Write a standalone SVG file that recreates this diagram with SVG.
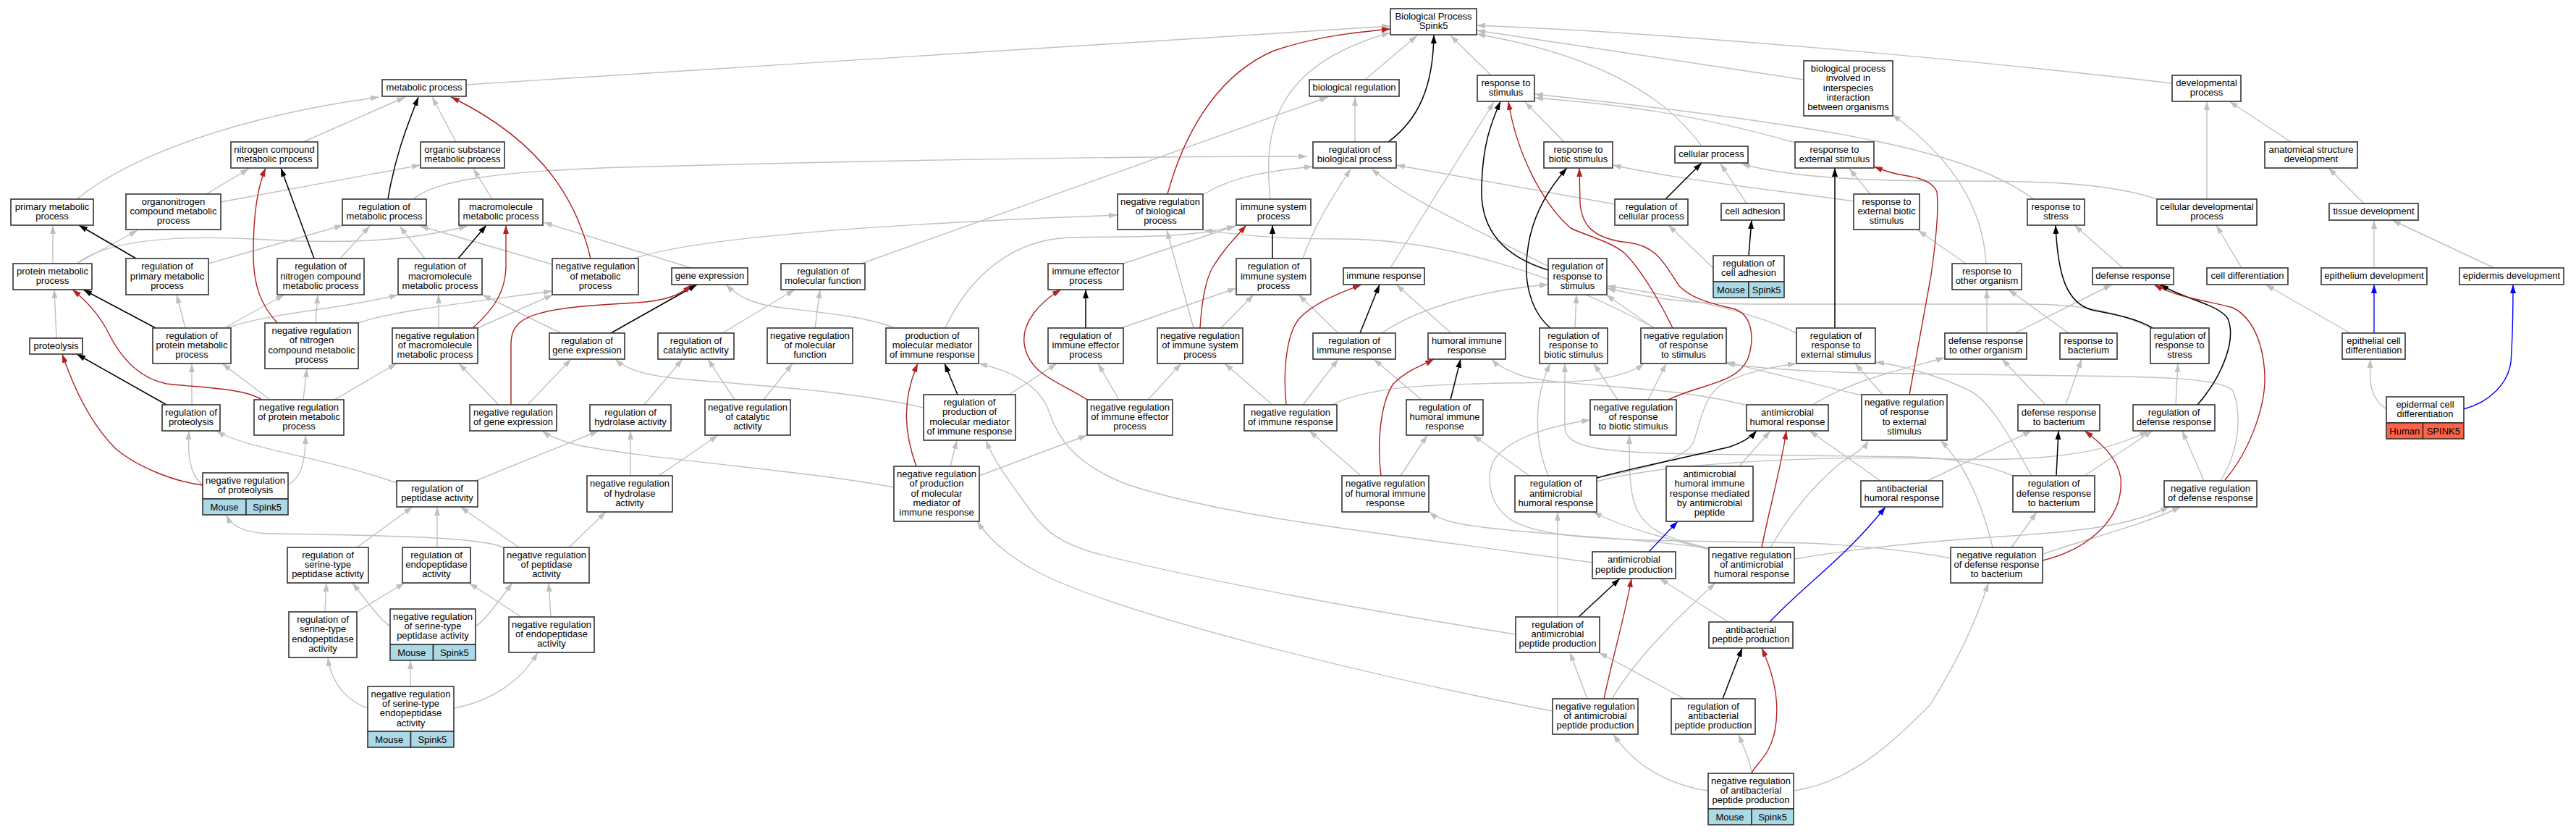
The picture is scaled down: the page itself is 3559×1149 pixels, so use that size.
<svg xmlns="http://www.w3.org/2000/svg" width="3559" height="1149" viewBox="0 0 3559 1149">
<style>
.n rect{fill:#fff;stroke:#333;stroke-width:1.6}
.n rect.lb{fill:#add8e6}
.n rect.hu{fill:#ff6347}
text{font-family:"Liberation Sans",Arial,sans-serif;font-size:13px;text-anchor:middle;fill:#000}
#edges path{fill:none;stroke:#c0c0c0;stroke-width:1.4}
#edges path.k{stroke:#000;stroke-width:1.5}
#edges path.r{stroke:#b22222;stroke-width:1.4}
#edges path.u{stroke:#0000ff;stroke-width:1.4}
</style>
<defs>
<marker id="ag" viewBox="0 0 12 8" markerWidth="12" markerHeight="8" refX="12" refY="4" orient="auto" markerUnits="userSpaceOnUse"><path d="M0,0 L12,4 L0,8 z" fill="#c0c0c0"/></marker>
<marker id="ak" viewBox="0 0 12 8" markerWidth="12" markerHeight="8" refX="12" refY="4" orient="auto" markerUnits="userSpaceOnUse"><path d="M0,0 L12,4 L0,8 z" fill="#000"/></marker>
<marker id="ar" viewBox="0 0 12 8" markerWidth="12" markerHeight="8" refX="12" refY="4" orient="auto" markerUnits="userSpaceOnUse"><path d="M0,0 L12,4 L0,8 z" fill="#b22222"/></marker>
<marker id="au" viewBox="0 0 12 8" markerWidth="12" markerHeight="8" refX="12" refY="4" orient="auto" markerUnits="userSpaceOnUse"><path d="M0,0 L12,4 L0,8 z" fill="#0000ff"/></marker>
</defs>
<rect width="3559" height="1149" fill="#fff"/>
<g id="edges">
<g marker-end="url(#ag)">
<path d="M644,117 L1921,36"/>
<path d="M106,275 C180,215 330,160 524,134"/>
<path d="M419,196 L560,134"/>
<path d="M630,196 L597,134"/>
<path d="M285,268 L344,233"/>
<path d="M305,279 L581,228"/>
<path d="M680,275 L654,233"/>
<path d="M73,364 L73,311"/>
<path d="M106,364 L190,318"/>
<path d="M288,364 L474,311"/>
<path d="M470,357 L511,312"/>
<path d="M587,357 L552,312"/>
<path d="M763,365 L580,312"/>
<path d="M571,275 C600,250 680,235 900,230 C1200,222 1500,216 1806,216"/>
<path d="M106,364 C150,330 250,325 350,330 C460,337 560,335 646,312"/>
<path d="M955,370 L751,307"/>
<path d="M873,358 C950,330 1200,310 1544,297"/>
<path d="M1190,364 L1835,134"/>
<path d="M1664,268 C1700,245 1750,236 1814,230"/>
<path d="M1649,453 L1612,318"/>
<path d="M1552,364 L1707,312"/>
<path d="M1306,453 C1340,380 1400,330 1480,328 C1560,326 1640,330 1707,312"/>
<path d="M2286,453 C2150,380 2000,330 1850,330 C1760,330 1720,325 1663,318"/>
<path d="M1755,275 C1745,180 1760,90 1921,45"/>
<path d="M1886,110 L1958,49"/>
<path d="M2060,104 L2004,49"/>
<path d="M3001,115 C2700,80 2300,45 2040,35"/>
<path d="M2492,110 L2040,42"/>
<path d="M2351,202 C2300,130 2200,75 2040,47"/>
<path d="M1872,196 L1872,134"/>
<path d="M1800,357 C1820,300 1850,260 1866,233"/>
<path d="M2139,368 C2050,320 1950,280 1895,233"/>
<path d="M1921,370 L2064,141"/>
<path d="M2161,196 L2107,141"/>
<path d="M2810,275 C2720,210 2550,175 2120,130"/>
<path d="M2480,197 C2350,160 2250,145 2120,135"/>
<path d="M2561,278 C2450,262 2330,250 2228,228"/>
<path d="M2413,281 L2377,226"/>
<path d="M2980,275 C2920,255 2850,250 2700,250 C2550,250 2460,242 2406,226"/>
<path d="M2584,268 L2555,233"/>
<path d="M2367,370 L2305,311"/>
<path d="M2231,282 L1929,228"/>
<path d="M2716,364 L2650,318"/>
<path d="M2744,364 C2740,290 2700,220 2614,158"/>
<path d="M2933,370 L2866,311"/>
<path d="M3097,370 L3062,311"/>
<path d="M3049,275 L3049,140"/>
<path d="M3165,196 L3080,140"/>
<path d="M3266,281 L3217,232"/>
<path d="M3280,370 L3280,304"/>
<path d="M3446,370 L3305,304"/>
<path d="M2745,460 L2745,400"/>
<path d="M2858,460 L2775,400"/>
<path d="M2784,460 L2918,393"/>
<path d="M2854,559 L2876,496"/>
<path d="M2826,559 L2766,496"/>
<path d="M2504,559 C2560,525 2620,512 2687,494"/>
<path d="M3006,559 L3009,502"/>
<path d="M3297,565 C3275,550 3273,530 3275,496"/>
<path d="M3247,460 L3130,393"/>
<path d="M2880,657 L2974,595"/>
<path d="M3045,664 L3015,595"/>
<path d="M2206,665 C2300,640 2500,628 2700,634 C2850,638 2920,620 2968,595"/>
<path d="M2663,664 L2807,595"/>
<path d="M78,467 L75,400"/>
<path d="M256,453 L244,407"/>
<path d="M310,453 L393,407"/>
<path d="M436,446 L439,407"/>
<path d="M313,453 C380,430 470,428 550,407"/>
<path d="M606,453 L606,407"/>
<path d="M495,446 C540,430 630,420 763,402"/>
<path d="M660,453 L764,407"/>
<path d="M775,460 L666,407"/>
<path d="M729,559 L789,496"/>
<path d="M1276,563 C1150,535 1000,530 930,522 C890,518 865,510 850,496"/>
<path d="M280,670 C262,655 259,630 261,595"/>
<path d="M548,667 C450,632 340,620 299,595"/>
<path d="M265,559 L265,502"/>
<path d="M373,552 L307,502"/>
<path d="M419,552 L424,509"/>
<path d="M462,552 L548,502"/>
<path d="M689,559 L634,502"/>
<path d="M398,670 C415,660 422,640 422,601"/>
<path d="M1235,673 C1100,648 900,635 800,615 C780,610 760,603 749,595"/>
<path d="M657,664 L827,595"/>
<path d="M871,657 L871,595"/>
<path d="M696,756 C670,745 600,740 372,737 C340,736 320,728 313,711"/>
<path d="M493,756 L570,700"/>
<path d="M604,756 L604,700"/>
<path d="M717,756 L636,700"/>
<path d="M786,756 L837,707"/>
<path d="M910,657 L992,601"/>
<path d="M890,559 L943,496"/>
<path d="M449,845 L451,805"/>
<path d="M539,865 C525,855 510,835 487,805"/>
<path d="M493,845 L559,805"/>
<path d="M720,852 L648,805"/>
<path d="M657,865 C672,855 685,835 708,805"/>
<path d="M761,852 L758,805"/>
<path d="M508,978 C480,968 458,945 453,908"/>
<path d="M567,948 L567,912"/>
<path d="M627,978 C680,968 720,940 743,901"/>
<path d="M1236,453 C1200,438 1140,432 1080,425 C1040,420 1020,410 1003,393"/>
<path d="M998,460 L1098,400"/>
<path d="M1126,453 L1133,400"/>
<path d="M1015,552 L978,496"/>
<path d="M1055,552 L1095,502"/>
<path d="M2200,777 C1900,735 1700,715 1560,670 C1480,640 1460,600 1450,570 C1440,540 1410,515 1352,502"/>
<path d="M1549,453 L1708,398"/>
<path d="M1687,453 L1732,407"/>
<path d="M1394,545 L1460,502"/>
<path d="M1546,552 L1517,502"/>
<path d="M1586,552 L1632,502"/>
<path d="M1758,559 L1692,502"/>
<path d="M1313,644 L1322,608"/>
<path d="M2094,876 C1900,845 1650,800 1510,763 C1460,748 1440,730 1420,700 C1395,665 1375,640 1362,608"/>
<path d="M2145,982 C1900,935 1550,850 1434,790 C1400,772 1370,750 1350,720"/>
<path d="M1353,657 L1502,601"/>
<path d="M1849,460 L1794,407"/>
<path d="M2005,460 L1929,393"/>
<path d="M1909,460 C1960,425 2050,400 2139,393"/>
<path d="M2176,453 L2178,407"/>
<path d="M2285,453 L2219,407"/>
<path d="M2482,460 C2420,430 2320,408 2220,395"/>
<path d="M2971,453 C2930,432 2880,420 2800,420 L2420,420 C2330,420 2270,410 2220,398"/>
<path d="M1800,559 L1849,496"/>
<path d="M1964,552 L1898,496"/>
<path d="M2414,560 C2300,530 2150,535 2100,518 C2085,512 2070,506 2061,496"/>
<path d="M1840,559 C1900,530 2000,530 2150,528 C2220,526 2255,515 2271,502"/>
<path d="M2139,657 C2120,610 2118,550 2142,502"/>
<path d="M2781,657 C2740,640 2700,633 2640,631 L2340,627 C2220,625 2162,620 2162,590 L2162,502"/>
<path d="M2235,552 L2202,502"/>
<path d="M2277,552 L2302,502"/>
<path d="M2572,546 L2385,500"/>
<path d="M3068,664 C3095,620 3097,570 3085,540 C3070,520 2950,520 2870,519 L2640,516 C2520,515 2440,510 2385,502"/>
<path d="M2206,660 C2260,650 2330,635 2340,610 C2350,580 2355,545 2380,530 C2410,515 2440,508 2482,502"/>
<path d="M2446,756 C2470,715 2500,675 2542,640 C2560,628 2575,620 2581,608"/>
<path d="M2753,756 C2740,700 2720,660 2707,640 C2695,625 2688,615 2681,608"/>
<path d="M2403,644 L2446,595"/>
<path d="M2598,664 L2500,595"/>
<path d="M1935,657 L1972,601"/>
<path d="M2113,657 L2035,601"/>
<path d="M1880,657 L1809,595"/>
<path d="M2695,771 C2640,760 2550,752 2496,750 L2324,747 C2200,745 2110,740 2080,712 C2055,690 2052,650 2068,630 C2090,605 2140,588 2197,580"/>
<path d="M2361,757 C2310,745 2280,735 2265,710 C2252,690 2251,660 2251,601"/>
<path d="M2361,759 C2300,742 2250,732 2201,707"/>
<path d="M2361,757 C2250,742 2150,740 2066,730 C2020,725 1990,720 1975,707"/>
<path d="M2227,965 C2260,910 2310,860 2370,805"/>
<path d="M2388,859 L2293,799"/>
<path d="M2601,545 L2563,502"/>
<path d="M2152,852 L2152,707"/>
<path d="M2193,965 L2169,901"/>
<path d="M2327,965 L2209,901"/>
<path d="M2360,1092 C2310,1085 2260,1060 2229,1014"/>
<path d="M2420,1068 C2418,1050 2410,1035 2402,1014"/>
<path d="M2479,1092 C2560,1080 2620,1020 2667,973 C2700,920 2730,860 2747,805"/>
<path d="M2779,756 L2814,707"/>
<path d="M2480,772 C2560,758 2650,748 2780,740 C2900,732 2950,722 2997,700"/>
<path d="M2823,765 C2880,745 2960,725 3013,700"/>
<path d="M2807,657 C2780,610 2750,550 2716,537 C2680,520 2630,505 2591,500"/>
</g>
<g marker-end="url(#ak)">
<path class="k" d="M536,275 C545,220 560,180 578,134"/>
<path class="k" d="M434,357 L388,232"/>
<path class="k" d="M188,357 L109,311"/>
<path class="k" d="M633,357 L672,311"/>
<path class="k" d="M215,453 L115,400"/>
<path class="k" d="M230,559 L106,489"/>
<path class="k" d="M844,460 L963,393"/>
<path class="k" d="M1323,545 L1305,502"/>
<path class="k" d="M1500,453 L1500,400"/>
<path class="k" d="M1758,357 L1758,311"/>
<path class="k" d="M1918,196 C1960,165 1980,120 1981,48"/>
<path class="k" d="M2139,373 C2080,355 2045,320 2047,260 C2048,200 2060,170 2073,140"/>
<path class="k" d="M2142,453 C2115,430 2105,390 2110,350 C2115,300 2140,260 2165,232"/>
<path class="k" d="M2301,275 L2351,225"/>
<path class="k" d="M2416,353 L2420,304"/>
<path class="k" d="M2535,453 L2535,232"/>
<path class="k" d="M2974,453 C2950,438 2910,432 2890,428 C2855,418 2843,380 2840,311"/>
<path class="k" d="M3036,559 C3070,520 3090,470 3078,440 C3065,420 3020,414 2984,393"/>
<path class="k" d="M2841,657 L2844,595"/>
<path class="k" d="M2004,552 L2018,496"/>
<path class="k" d="M1879,460 L1906,393"/>
<path class="k" d="M2206,660 C2260,645 2330,632 2390,617 C2405,612 2418,605 2427,595"/>
<path class="k" d="M2181,852 L2238,799"/>
<path class="k" d="M2380,965 L2407,895"/>
</g>
<g marker-end="url(#ar)">
<path class="r" d="M816,357 C800,290 760,200 623,134"/>
<path class="r" d="M383,446 C360,420 350,395 350,350 C350,300 355,260 367,232"/>
<path class="r" d="M653,453 C685,425 698,400 699,370 L699,311"/>
<path class="r" d="M362,552 C335,535 270,535 230,530 C190,522 165,490 150,460 C135,430 115,412 100,400"/>
<path class="r" d="M280,670 C240,665 190,645 160,620 C130,590 105,545 86,489"/>
<path class="r" d="M706,559 L706,475 C706,435 740,425 880,418 C920,415 940,408 955,393"/>
<path class="r" d="M1613,268 C1640,170 1690,100 1760,70 C1820,50 1870,45 1921,40"/>
<path class="r" d="M1658,453 C1660,420 1664,390 1675,370 C1690,345 1705,330 1722,311"/>
<path class="r" d="M1266,644 C1250,600 1245,555 1268,502"/>
<path class="r" d="M1502,552 C1470,530 1425,520 1416,480 C1408,445 1440,415 1466,400"/>
<path class="r" d="M2311,453 C2290,410 2265,370 2245,350 C2225,333 2190,325 2170,315 C2130,280 2095,210 2084,140"/>
<path class="r" d="M2305,552 C2350,530 2400,530 2415,495 C2425,465 2420,435 2397,427 C2370,420 2340,415 2320,395 C2300,365 2290,340 2250,335 C2200,330 2185,310 2183,280 L2182,232"/>
<path class="r" d="M2638,545 L2668,380 C2675,330 2679,290 2676,265 C2670,250 2650,245 2630,242 C2615,240 2604,236 2589,230"/>
<path class="r" d="M1777,559 C1772,510 1778,460 1795,440 C1815,418 1850,405 1881,393"/>
<path class="r" d="M1908,657 C1903,620 1905,560 1925,530 C1945,510 1965,505 1981,496"/>
<path class="r" d="M2434,756 C2445,700 2460,650 2468,595"/>
<path class="r" d="M2216,965 C2230,900 2245,850 2254,799"/>
<path class="r" d="M2420,1068 C2425,1055 2445,1045 2452,1010 C2460,970 2450,930 2434,895"/>
<path class="r" d="M2822,774 C2880,760 2935,720 2930,660 C2925,630 2900,610 2880,595"/>
<path class="r" d="M3074,663 C3110,620 3130,560 3129,520 C3128,480 3115,440 3085,425 C3050,415 3010,412 2976,393"/>
</g>
<g marker-end="url(#au)">
<path class="u" d="M3280,460 L3280,393"/>
<path class="u" d="M3404,565 C3440,555 3465,530 3469,500 C3472,460 3472,420 3472,393"/>
<path class="u" d="M2278,762 L2318,720"/>
<path class="u" d="M2445,859 C2490,810 2550,770 2605,700"/>
</g>
</g>
<g id="n_BP" class="n"><rect x="1921" y="12" width="119" height="36"/><text x="1980.5" y="26.9"><tspan x="1980.5">Biological Process</tspan><tspan x="1980.5" dy="13.3">Spink5</tspan></text></g>
<g id="n_MP" class="n"><rect x="528" y="110" width="116" height="23"/><text x="586" y="125">metabolic process</text></g>
<g id="n_BR" class="n"><rect x="1809" y="110" width="124" height="23"/><text x="1871" y="125">biological regulation</text></g>
<g id="n_RS" class="n"><rect x="2041" y="104" width="79" height="36"/><text x="2080.5" y="118.9"><tspan x="2080.5">response to</tspan><tspan x="2080.5" dy="13.3">stimulus</tspan></text></g>
<g id="n_BPI" class="n"><rect x="2492" y="84" width="123" height="76"/><text x="2553.5" y="98.9"><tspan x="2553.5">biological process</tspan><tspan x="2553.5" dy="13.3">involved in</tspan><tspan x="2553.5" dy="13.3">interspecies</tspan><tspan x="2553.5" dy="13.3">interaction</tspan><tspan x="2553.5" dy="13.3">between organisms</tspan></text></g>
<g id="n_DP" class="n"><rect x="3001" y="104" width="95" height="36"/><text x="3048.5" y="118.9"><tspan x="3048.5">developmental</tspan><tspan x="3048.5" dy="13.3">process</tspan></text></g>
<g id="n_NCMP" class="n"><rect x="319" y="196" width="120" height="36"/><text x="379" y="210.9"><tspan x="379">nitrogen compound</tspan><tspan x="379" dy="13.3">metabolic process</tspan></text></g>
<g id="n_OSMP" class="n"><rect x="581" y="196" width="116" height="36"/><text x="639" y="210.9"><tspan x="639">organic substance</tspan><tspan x="639" dy="13.3">metabolic process</tspan></text></g>
<g id="n_RBP" class="n"><rect x="1814" y="196" width="115" height="36"/><text x="1871.5" y="210.9"><tspan x="1871.5">regulation of</tspan><tspan x="1871.5" dy="13.3">biological process</tspan></text></g>
<g id="n_RBS" class="n"><rect x="2133" y="196" width="95" height="36"/><text x="2180.5" y="210.9"><tspan x="2180.5">response to</tspan><tspan x="2180.5" dy="13.3">biotic stimulus</tspan></text></g>
<g id="n_CP" class="n"><rect x="2314" y="202" width="101" height="23"/><text x="2364.5" y="217">cellular process</text></g>
<g id="n_RES" class="n"><rect x="2480" y="196" width="109" height="36"/><text x="2534.5" y="210.9"><tspan x="2534.5">response to</tspan><tspan x="2534.5" dy="13.3">external stimulus</tspan></text></g>
<g id="n_ASD" class="n"><rect x="3129" y="196" width="128" height="36"/><text x="3193" y="210.9"><tspan x="3193">anatomical structure</tspan><tspan x="3193" dy="13.3">development</tspan></text></g>
<g id="n_PMP" class="n"><rect x="15" y="275" width="114" height="36"/><text x="72" y="289.9"><tspan x="72">primary metabolic</tspan><tspan x="72" dy="13.3">process</tspan></text></g>
<g id="n_ONCMP" class="n"><rect x="174" y="268" width="131" height="49"/><text x="239.5" y="282.7"><tspan x="239.5">organonitrogen</tspan><tspan x="239.5" dy="13.3">compound metabolic</tspan><tspan x="239.5" dy="13.3">process</tspan></text></g>
<g id="n_RMP" class="n"><rect x="473" y="275" width="116" height="36"/><text x="531" y="289.9"><tspan x="531">regulation of</tspan><tspan x="531" dy="13.3">metabolic process</tspan></text></g>
<g id="n_MMP" class="n"><rect x="634" y="275" width="116" height="36"/><text x="692" y="289.9"><tspan x="692">macromolecule</tspan><tspan x="692" dy="13.3">metabolic process</tspan></text></g>
<g id="n_NRBP" class="n"><rect x="1544" y="268" width="118" height="49"/><text x="1603" y="282.7"><tspan x="1603">negative regulation</tspan><tspan x="1603" dy="13.3">of biological</tspan><tspan x="1603" dy="13.3">process</tspan></text></g>
<g id="n_ISP" class="n"><rect x="1708" y="275" width="103" height="36"/><text x="1759.5" y="289.9"><tspan x="1759.5">immune system</tspan><tspan x="1759.5" dy="13.3">process</tspan></text></g>
<g id="n_RCP" class="n"><rect x="2231" y="275" width="101" height="36"/><text x="2281.5" y="289.9"><tspan x="2281.5">regulation of</tspan><tspan x="2281.5" dy="13.3">cellular process</tspan></text></g>
<g id="n_CA" class="n"><rect x="2378" y="281" width="87" height="23"/><text x="2421.5" y="296">cell adhesion</text></g>
<g id="n_REBS" class="n"><rect x="2561" y="268" width="91" height="49"/><text x="2606.5" y="282.7"><tspan x="2606.5">response to</tspan><tspan x="2606.5" dy="13.3">external biotic</tspan><tspan x="2606.5" dy="13.3">stimulus</tspan></text></g>
<g id="n_RSTR" class="n"><rect x="2801" y="275" width="79" height="36"/><text x="2840.5" y="289.9"><tspan x="2840.5">response to</tspan><tspan x="2840.5" dy="13.3">stress</tspan></text></g>
<g id="n_CDP" class="n"><rect x="2980" y="275" width="138" height="36"/><text x="3049" y="289.9"><tspan x="3049">cellular developmental</tspan><tspan x="3049" dy="13.3">process</tspan></text></g>
<g id="n_TD" class="n"><rect x="3218" y="281" width="123" height="23"/><text x="3279.5" y="296">tissue development</text></g>
<g id="n_PRMP" class="n"><rect x="18" y="364" width="109" height="36"/><text x="72.5" y="378.9"><tspan x="72.5">protein metabolic</tspan><tspan x="72.5" dy="13.3">process</tspan></text></g>
<g id="n_RPMP" class="n"><rect x="174" y="357" width="114" height="50"/><text x="231" y="372.2"><tspan x="231">regulation of</tspan><tspan x="231" dy="13.3">primary metabolic</tspan><tspan x="231" dy="13.3">process</tspan></text></g>
<g id="n_RNCMP" class="n"><rect x="383" y="357" width="120" height="50"/><text x="443" y="372.2"><tspan x="443">regulation of</tspan><tspan x="443" dy="13.3">nitrogen compound</tspan><tspan x="443" dy="13.3">metabolic process</tspan></text></g>
<g id="n_RMMP" class="n"><rect x="550" y="357" width="116" height="50"/><text x="608" y="372.2"><tspan x="608">regulation of</tspan><tspan x="608" dy="13.3">macromolecule</tspan><tspan x="608" dy="13.3">metabolic process</tspan></text></g>
<g id="n_NRMP" class="n"><rect x="763" y="357" width="119" height="50"/><text x="822.5" y="372.2"><tspan x="822.5">negative regulation</tspan><tspan x="822.5" dy="13.3">of metabolic</tspan><tspan x="822.5" dy="13.3">process</tspan></text></g>
<g id="n_GE" class="n"><rect x="928" y="370" width="105" height="23"/><text x="980.5" y="385">gene expression</text></g>
<g id="n_RMF" class="n"><rect x="1079" y="364" width="116" height="36"/><text x="1137" y="378.9"><tspan x="1137">regulation of</tspan><tspan x="1137" dy="13.3">molecular function</tspan></text></g>
<g id="n_IEP" class="n"><rect x="1448" y="364" width="104" height="36"/><text x="1500" y="378.9"><tspan x="1500">immune effector</tspan><tspan x="1500" dy="13.3">process</tspan></text></g>
<g id="n_RISP" class="n"><rect x="1708" y="357" width="103" height="50"/><text x="1759.5" y="372.2"><tspan x="1759.5">regulation of</tspan><tspan x="1759.5" dy="13.3">immune system</tspan><tspan x="1759.5" dy="13.3">process</tspan></text></g>
<g id="n_IR" class="n"><rect x="1856" y="370" width="112" height="23"/><text x="1912" y="385">immune response</text></g>
<g id="n_RRS" class="n"><rect x="2139" y="357" width="81" height="50"/><text x="2179.5" y="372.2"><tspan x="2179.5">regulation of</tspan><tspan x="2179.5" dy="13.3">response to</tspan><tspan x="2179.5" dy="13.3">stimulus</tspan></text></g>
<g id="n_RCA" class="n"><rect x="2367" y="353" width="98" height="36"/><rect class="lb" x="2367" y="389" width="49" height="22"/><rect class="lb" x="2416" y="389" width="49" height="22"/><text x="2416" y="367.9"><tspan x="2416">regulation of</tspan><tspan x="2416" dy="13.3">cell adhesion</tspan></text><text x="2391.5" y="404.5">Mouse</text><text x="2440.5" y="404.5">Spink5</text></g>
<g id="n_ROO" class="n"><rect x="2697" y="364" width="96" height="36"/><text x="2745" y="378.9"><tspan x="2745">response to</tspan><tspan x="2745" dy="13.3">other organism</tspan></text></g>
<g id="n_DR" class="n"><rect x="2891" y="370" width="112" height="23"/><text x="2947" y="385">defense response</text></g>
<g id="n_CD" class="n"><rect x="3049" y="370" width="112" height="23"/><text x="3105" y="385">cell differentiation</text></g>
<g id="n_ED" class="n"><rect x="3207" y="370" width="146" height="23"/><text x="3280" y="385">epithelium development</text></g>
<g id="n_EPD" class="n"><rect x="3398" y="370" width="144" height="23"/><text x="3470" y="385">epidermis development</text></g>
<g id="n_PROT" class="n"><rect x="41" y="467" width="73" height="22"/><text x="77.5" y="481.5">proteolysis</text></g>
<g id="n_RPRMP" class="n"><rect x="211" y="453" width="108" height="49"/><text x="265" y="467.7"><tspan x="265">regulation of</tspan><tspan x="265" dy="13.3">protein metabolic</tspan><tspan x="265" dy="13.3">process</tspan></text></g>
<g id="n_NRNCMP" class="n"><rect x="366" y="446" width="129" height="63"/><text x="430.5" y="461"><tspan x="430.5">negative regulation</tspan><tspan x="430.5" dy="13.3">of nitrogen</tspan><tspan x="430.5" dy="13.3">compound metabolic</tspan><tspan x="430.5" dy="13.3">process</tspan></text></g>
<g id="n_NRMMP" class="n"><rect x="542" y="453" width="118" height="49"/><text x="601" y="467.7"><tspan x="601">negative regulation</tspan><tspan x="601" dy="13.3">of macromolecule</tspan><tspan x="601" dy="13.3">metabolic process</tspan></text></g>
<g id="n_RGE" class="n"><rect x="759" y="460" width="104" height="36"/><text x="811" y="474.9"><tspan x="811">regulation of</tspan><tspan x="811" dy="13.3">gene expression</tspan></text></g>
<g id="n_RCAT" class="n"><rect x="909" y="460" width="105" height="36"/><text x="961.5" y="474.9"><tspan x="961.5">regulation of</tspan><tspan x="961.5" dy="13.3">catalytic activity</tspan></text></g>
<g id="n_NRMF" class="n"><rect x="1060" y="453" width="118" height="49"/><text x="1119" y="467.7"><tspan x="1119">negative regulation</tspan><tspan x="1119" dy="13.3">of molecular</tspan><tspan x="1119" dy="13.3">function</tspan></text></g>
<g id="n_PMMIR" class="n"><rect x="1224" y="453" width="128" height="49"/><text x="1288" y="467.7"><tspan x="1288">production of</tspan><tspan x="1288" dy="13.3">molecular mediator</tspan><tspan x="1288" dy="13.3">of immune response</tspan></text></g>
<g id="n_RIEP" class="n"><rect x="1448" y="453" width="104" height="49"/><text x="1500" y="467.7"><tspan x="1500">regulation of</tspan><tspan x="1500" dy="13.3">immune effector</tspan><tspan x="1500" dy="13.3">process</tspan></text></g>
<g id="n_NRISP" class="n"><rect x="1599" y="453" width="118" height="49"/><text x="1658" y="467.7"><tspan x="1658">negative regulation</tspan><tspan x="1658" dy="13.3">of immune system</tspan><tspan x="1658" dy="13.3">process</tspan></text></g>
<g id="n_RIR" class="n"><rect x="1814" y="460" width="114" height="36"/><text x="1871" y="474.9"><tspan x="1871">regulation of</tspan><tspan x="1871" dy="13.3">immune response</tspan></text></g>
<g id="n_HIR" class="n"><rect x="1973" y="460" width="107" height="36"/><text x="2026.5" y="474.9"><tspan x="2026.5">humoral immune</tspan><tspan x="2026.5" dy="13.3">response</tspan></text></g>
<g id="n_RRBS" class="n"><rect x="2127" y="453" width="94" height="49"/><text x="2174" y="467.7"><tspan x="2174">regulation of</tspan><tspan x="2174" dy="13.3">response to</tspan><tspan x="2174" dy="13.3">biotic stimulus</tspan></text></g>
<g id="n_NRRS" class="n"><rect x="2267" y="453" width="118" height="49"/><text x="2326" y="467.7"><tspan x="2326">negative regulation</tspan><tspan x="2326" dy="13.3">of response</tspan><tspan x="2326" dy="13.3">to stimulus</tspan></text></g>
<g id="n_RRES" class="n"><rect x="2482" y="453" width="109" height="49"/><text x="2536.5" y="467.7"><tspan x="2536.5">regulation of</tspan><tspan x="2536.5" dy="13.3">response to</tspan><tspan x="2536.5" dy="13.3">external stimulus</tspan></text></g>
<g id="n_DROO" class="n"><rect x="2687" y="460" width="113" height="36"/><text x="2743.5" y="474.9"><tspan x="2743.5">defense response</tspan><tspan x="2743.5" dy="13.3">to other organism</tspan></text></g>
<g id="n_RB" class="n"><rect x="2846" y="460" width="79" height="36"/><text x="2885.5" y="474.9"><tspan x="2885.5">response to</tspan><tspan x="2885.5" dy="13.3">bacterium</tspan></text></g>
<g id="n_RRSTR" class="n"><rect x="2971" y="453" width="81" height="49"/><text x="3011.5" y="467.7"><tspan x="3011.5">regulation of</tspan><tspan x="3011.5" dy="13.3">response to</tspan><tspan x="3011.5" dy="13.3">stress</tspan></text></g>
<g id="n_ECD" class="n"><rect x="3236" y="460" width="87" height="36"/><text x="3279.5" y="474.9"><tspan x="3279.5">epithelial cell</tspan><tspan x="3279.5" dy="13.3">differentiation</tspan></text></g>
<g id="n_RPROT" class="n"><rect x="224" y="559" width="80" height="36"/><text x="264" y="573.9"><tspan x="264">regulation of</tspan><tspan x="264" dy="13.3">proteolysis</tspan></text></g>
<g id="n_NRPRMP" class="n"><rect x="351" y="552" width="124" height="49"/><text x="413" y="566.7"><tspan x="413">negative regulation</tspan><tspan x="413" dy="13.3">of protein metabolic</tspan><tspan x="413" dy="13.3">process</tspan></text></g>
<g id="n_NRGE" class="n"><rect x="649" y="559" width="120" height="36"/><text x="709" y="573.9"><tspan x="709">negative regulation</tspan><tspan x="709" dy="13.3">of gene expression</tspan></text></g>
<g id="n_RHA" class="n"><rect x="815" y="559" width="112" height="36"/><text x="871" y="573.9"><tspan x="871">regulation of</tspan><tspan x="871" dy="13.3">hydrolase activity</tspan></text></g>
<g id="n_NRCAT" class="n"><rect x="974" y="552" width="118" height="49"/><text x="1033" y="566.7"><tspan x="1033">negative regulation</tspan><tspan x="1033" dy="13.3">of catalytic</tspan><tspan x="1033" dy="13.3">activity</tspan></text></g>
<g id="n_RPMMIR" class="n"><rect x="1276" y="545" width="127" height="63"/><text x="1339.5" y="560"><tspan x="1339.5">regulation of</tspan><tspan x="1339.5" dy="13.3">production of</tspan><tspan x="1339.5" dy="13.3">molecular mediator</tspan><tspan x="1339.5" dy="13.3">of immune response</tspan></text></g>
<g id="n_NRIEP" class="n"><rect x="1502" y="552" width="118" height="49"/><text x="1561" y="566.7"><tspan x="1561">negative regulation</tspan><tspan x="1561" dy="13.3">of immune effector</tspan><tspan x="1561" dy="13.3">process</tspan></text></g>
<g id="n_NRIR" class="n"><rect x="1719" y="559" width="128" height="36"/><text x="1783" y="573.9"><tspan x="1783">negative regulation</tspan><tspan x="1783" dy="13.3">of immune response</tspan></text></g>
<g id="n_RHIR" class="n"><rect x="1943" y="552" width="106" height="49"/><text x="1996" y="566.7"><tspan x="1996">regulation of</tspan><tspan x="1996" dy="13.3">humoral immune</tspan><tspan x="1996" dy="13.3">response</tspan></text></g>
<g id="n_NRRBS" class="n"><rect x="2197" y="552" width="119" height="49"/><text x="2256.5" y="566.7"><tspan x="2256.5">negative regulation</tspan><tspan x="2256.5" dy="13.3">of response</tspan><tspan x="2256.5" dy="13.3">to biotic stimulus</tspan></text></g>
<g id="n_AMHR" class="n"><rect x="2413" y="559" width="113" height="36"/><text x="2469.5" y="573.9"><tspan x="2469.5">antimicrobial</tspan><tspan x="2469.5" dy="13.3">humoral response</tspan></text></g>
<g id="n_NRRES" class="n"><rect x="2572" y="545" width="118" height="63"/><text x="2631" y="560"><tspan x="2631">negative regulation</tspan><tspan x="2631" dy="13.3">of response</tspan><tspan x="2631" dy="13.3">to external</tspan><tspan x="2631" dy="13.3">stimulus</tspan></text></g>
<g id="n_DRB" class="n"><rect x="2788" y="559" width="113" height="36"/><text x="2844.5" y="573.9"><tspan x="2844.5">defense response</tspan><tspan x="2844.5" dy="13.3">to bacterium</tspan></text></g>
<g id="n_RDR" class="n"><rect x="2947" y="559" width="113" height="36"/><text x="3003.5" y="573.9"><tspan x="3003.5">regulation of</tspan><tspan x="3003.5" dy="13.3">defense response</tspan></text></g>
<g id="n_EPCD" class="n"><rect x="3297" y="548" width="107" height="36"/><rect class="hu" x="3297" y="584" width="50.5" height="22"/><rect class="hu" x="3347.5" y="584" width="56.5" height="22"/><text x="3350.5" y="562.9"><tspan x="3350.5">epidermal cell</tspan><tspan x="3350.5" dy="13.3">differentiation</tspan></text><text x="3322.3" y="599.5">Human</text><text x="3375.8" y="599.5">SPINK5</text></g>
<g id="n_NRPROT" class="n"><rect x="280" y="653" width="118" height="36"/><rect class="lb" x="280" y="689" width="60" height="22"/><rect class="lb" x="340" y="689" width="58" height="22"/><text x="339" y="667.9"><tspan x="339">negative regulation</tspan><tspan x="339" dy="13.3">of proteolysis</tspan></text><text x="310" y="704.5">Mouse</text><text x="369" y="704.5">Spink5</text></g>
<g id="n_RPA" class="n"><rect x="548" y="664" width="112" height="36"/><text x="604" y="678.9"><tspan x="604">regulation of</tspan><tspan x="604" dy="13.3">peptidase activity</tspan></text></g>
<g id="n_NRHA" class="n"><rect x="811" y="657" width="118" height="50"/><text x="870" y="672.2"><tspan x="870">negative regulation</tspan><tspan x="870" dy="13.3">of hydrolase</tspan><tspan x="870" dy="13.3">activity</tspan></text></g>
<g id="n_NRPMMIR" class="n"><rect x="1235" y="644" width="118" height="76"/><text x="1294" y="658.9"><tspan x="1294">negative regulation</tspan><tspan x="1294" dy="13.3">of production</tspan><tspan x="1294" dy="13.3">of molecular</tspan><tspan x="1294" dy="13.3">mediator of</tspan><tspan x="1294" dy="13.3">immune response</tspan></text></g>
<g id="n_NRHIR" class="n"><rect x="1854" y="657" width="120" height="50"/><text x="1914" y="672.2"><tspan x="1914">negative regulation</tspan><tspan x="1914" dy="13.3">of humoral immune</tspan><tspan x="1914" dy="13.3">response</tspan></text></g>
<g id="n_RAMHR" class="n"><rect x="2093" y="657" width="113" height="50"/><text x="2149.5" y="672.2"><tspan x="2149.5">regulation of</tspan><tspan x="2149.5" dy="13.3">antimicrobial</tspan><tspan x="2149.5" dy="13.3">humoral response</tspan></text></g>
<g id="n_AMHIRP" class="n"><rect x="2302" y="644" width="120" height="76"/><text x="2362" y="658.9"><tspan x="2362">antimicrobial</tspan><tspan x="2362" dy="13.3">humoral immune</tspan><tspan x="2362" dy="13.3">response mediated</tspan><tspan x="2362" dy="13.3">by antimicrobial</tspan><tspan x="2362" dy="13.3">peptide</tspan></text></g>
<g id="n_ABHR" class="n"><rect x="2571" y="664" width="113" height="36"/><text x="2627.5" y="678.9"><tspan x="2627.5">antibacterial</tspan><tspan x="2627.5" dy="13.3">humoral response</tspan></text></g>
<g id="n_RDRB" class="n"><rect x="2781" y="657" width="113" height="50"/><text x="2837.5" y="672.2"><tspan x="2837.5">regulation of</tspan><tspan x="2837.5" dy="13.3">defense response</tspan><tspan x="2837.5" dy="13.3">to bacterium</tspan></text></g>
<g id="n_NRDR" class="n"><rect x="2990" y="664" width="128" height="36"/><text x="3054" y="678.9"><tspan x="3054">negative regulation</tspan><tspan x="3054" dy="13.3">of defense response</tspan></text></g>
<g id="n_RSTPA" class="n"><rect x="397" y="756" width="112" height="49"/><text x="453" y="770.7"><tspan x="453">regulation of</tspan><tspan x="453" dy="13.3">serine-type</tspan><tspan x="453" dy="13.3">peptidase activity</tspan></text></g>
<g id="n_REPA" class="n"><rect x="556" y="756" width="94" height="49"/><text x="603" y="770.7"><tspan x="603">regulation of</tspan><tspan x="603" dy="13.3">endopeptidase</tspan><tspan x="603" dy="13.3">activity</tspan></text></g>
<g id="n_NRPA" class="n"><rect x="696" y="756" width="118" height="49"/><text x="755" y="770.7"><tspan x="755">negative regulation</tspan><tspan x="755" dy="13.3">of peptidase</tspan><tspan x="755" dy="13.3">activity</tspan></text></g>
<g id="n_NRAMHR" class="n"><rect x="2361" y="756" width="118" height="49"/><text x="2420" y="770.7"><tspan x="2420">negative regulation</tspan><tspan x="2420" dy="13.3">of antimicrobial</tspan><tspan x="2420" dy="13.3">humoral response</tspan></text></g>
<g id="n_AMPP" class="n"><rect x="2200" y="762" width="115" height="37"/><text x="2257.5" y="777.4"><tspan x="2257.5">antimicrobial</tspan><tspan x="2257.5" dy="13.3">peptide production</tspan></text></g>
<g id="n_NRDRB" class="n"><rect x="2695" y="756" width="127" height="49"/><text x="2758.5" y="770.7"><tspan x="2758.5">negative regulation</tspan><tspan x="2758.5" dy="13.3">of defense response</tspan><tspan x="2758.5" dy="13.3">to bacterium</tspan></text></g>
<g id="n_RSTEPA" class="n"><rect x="399" y="845" width="94" height="63"/><text x="446" y="860"><tspan x="446">regulation of</tspan><tspan x="446" dy="13.3">serine-type</tspan><tspan x="446" dy="13.3">endopeptidase</tspan><tspan x="446" dy="13.3">activity</tspan></text></g>
<g id="n_NRSTPA" class="n"><rect x="539" y="841" width="118" height="49"/><rect class="lb" x="539" y="890" width="59.5" height="22"/><rect class="lb" x="598.5" y="890" width="58.5" height="22"/><text x="598" y="855.7"><tspan x="598">negative regulation</tspan><tspan x="598" dy="13.3">of serine-type</tspan><tspan x="598" dy="13.3">peptidase activity</tspan></text><text x="568.8" y="905.5">Mouse</text><text x="627.8" y="905.5">Spink5</text></g>
<g id="n_NREPA" class="n"><rect x="703" y="852" width="118" height="49"/><text x="762" y="866.7"><tspan x="762">negative regulation</tspan><tspan x="762" dy="13.3">of endopeptidase</tspan><tspan x="762" dy="13.3">activity</tspan></text></g>
<g id="n_RAMPP" class="n"><rect x="2094" y="852" width="116" height="49"/><text x="2152" y="866.7"><tspan x="2152">regulation of</tspan><tspan x="2152" dy="13.3">antimicrobial</tspan><tspan x="2152" dy="13.3">peptide production</tspan></text></g>
<g id="n_ABPP" class="n"><rect x="2361" y="859" width="116" height="36"/><text x="2419" y="873.9"><tspan x="2419">antibacterial</tspan><tspan x="2419" dy="13.3">peptide production</tspan></text></g>
<g id="n_NRSTEPA" class="n"><rect x="508" y="948" width="119" height="62"/><rect class="lb" x="508" y="1010" width="59.5" height="22"/><rect class="lb" x="567.5" y="1010" width="59.5" height="22"/><text x="567.5" y="962.6"><tspan x="567.5">negative regulation</tspan><tspan x="567.5" dy="13.3">of serine-type</tspan><tspan x="567.5" dy="13.3">endopeptidase</tspan><tspan x="567.5" dy="13.3">activity</tspan></text><text x="537.8" y="1025.5">Mouse</text><text x="597.3" y="1025.5">Spink5</text></g>
<g id="n_NRAMPP" class="n"><rect x="2145" y="965" width="118" height="49"/><text x="2204" y="979.7"><tspan x="2204">negative regulation</tspan><tspan x="2204" dy="13.3">of antimicrobial</tspan><tspan x="2204" dy="13.3">peptide production</tspan></text></g>
<g id="n_RABPP" class="n"><rect x="2309" y="965" width="116" height="49"/><text x="2367" y="979.7"><tspan x="2367">regulation of</tspan><tspan x="2367" dy="13.3">antibacterial</tspan><tspan x="2367" dy="13.3">peptide production</tspan></text></g>
<g id="n_NRABPP" class="n"><rect x="2360" y="1068" width="118" height="49"/><rect class="lb" x="2360" y="1117" width="60" height="22"/><rect class="lb" x="2420" y="1117" width="58" height="22"/><text x="2419" y="1082.7"><tspan x="2419">negative regulation</tspan><tspan x="2419" dy="13.3">of antibacterial</tspan><tspan x="2419" dy="13.3">peptide production</tspan></text><text x="2390" y="1132.5">Mouse</text><text x="2449" y="1132.5">Spink5</text></g>
</svg>
